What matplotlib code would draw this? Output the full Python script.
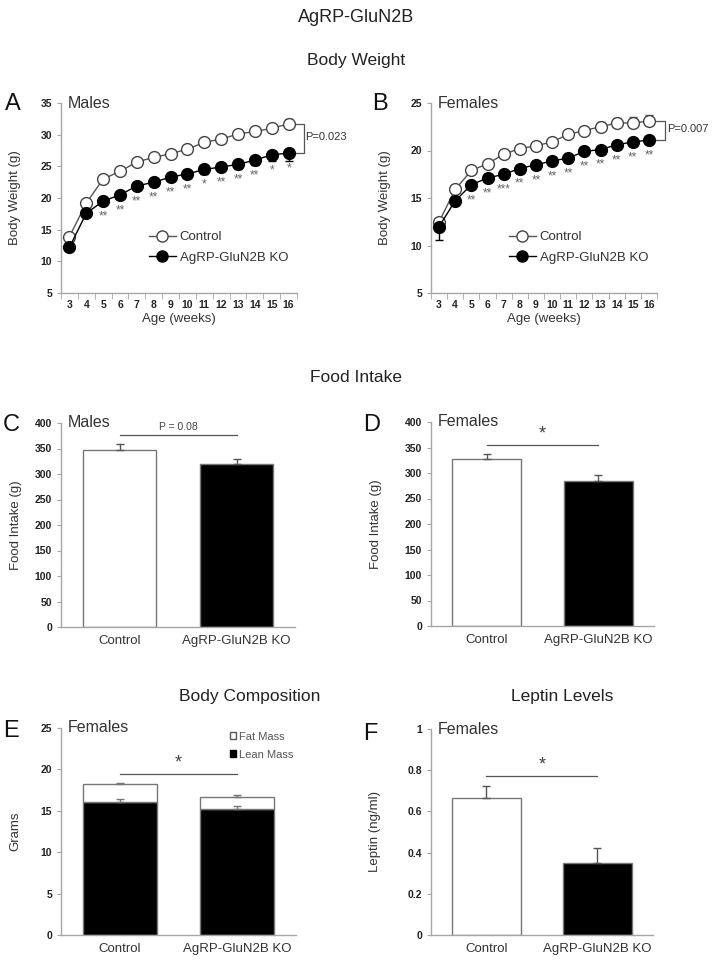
import matplotlib
matplotlib.use("Agg")
import matplotlib.pyplot as plt
from matplotlib.patches import Patch
from matplotlib.lines import Line2D
import numpy as np

plt.rcParams['font.family'] = ['Liberation Sans', 'DejaVu Sans']

# ---- data ----
weeks = list(range(3, 17))

male_ctrl = [13.9, 19.2, 23.0, 24.2, 25.7, 26.4, 27.0, 27.7, 28.8, 29.3, 30.1, 30.5, 31.0, 31.7]
male_ctrl_err = [0.5, 0.4, 0.4, 0.4, 0.4, 0.4, 0.5, 0.5, 0.6, 0.5, 0.6, 0.6, 0.6, 0.7]
male_ko = [12.2, 17.6, 19.5, 20.5, 21.9, 22.5, 23.3, 23.8, 24.5, 24.9, 25.3, 26.0, 26.8, 27.1]
male_ko_err = [0.4, 0.5, 0.5, 0.5, 0.5, 0.5, 0.6, 0.6, 0.7, 0.7, 0.7, 0.8, 1.0, 1.2]
male_stars = ["", "", "**", "**", "**", "**", "**", "**", "*", "**", "**", "**", "*", "*"]

fem_ctrl = [12.5, 15.9, 17.9, 18.6, 19.6, 20.2, 20.5, 20.9, 21.7, 22.1, 22.5, 22.9, 22.9, 23.1]
fem_ctrl_err = [0.3, 0.3, 0.3, 0.3, 0.3, 0.3, 0.4, 0.4, 0.5, 0.4, 0.5, 0.5, 0.6, 0.6]
fem_ko = [12.0, 14.7, 16.4, 17.1, 17.5, 18.1, 18.5, 18.9, 19.2, 19.9, 20.1, 20.6, 20.9, 21.1]
fem_ko_err = [1.4, 0.4, 0.3, 0.3, 0.3, 0.3, 0.3, 0.3, 0.3, 0.3, 0.3, 0.3, 0.3, 0.3]
fem_stars = ["", "", "**", "**", "***", "**", "**", "**", "**", "**", "**", "**", "**", "**"]

groups = ["Control", "AgRP-GluN2B KO"]
food_male = [348, 320]
food_male_err = [10, 10]
food_fem = [328, 285]
food_fem_err = [10, 12]

lean_mass = [16.1, 15.2]
lean_err = [0.3, 0.4]
total_mass = [18.2, 16.7]
total_err = [0.2, 0.15]

leptin = [0.665, 0.35]
leptin_err = [0.06, 0.07]

W, H = 713, 960
fig = plt.figure(figsize=(W / 100, H / 100), dpi=100)


def box(x0, y0, x1, y1):
    return [x0 / W, 1 - y1 / H, (x1 - x0) / W, (y1 - y0) / H]


AX_COL = "#a6a6a6"
TXT = "#333333"


def style(ax):
    for s in ["top", "right"]:
        ax.spines[s].set_visible(False)
    for s in ["left", "bottom"]:
        ax.spines[s].set_color(AX_COL)
        ax.spines[s].set_linewidth(1)
    ax.tick_params(axis="y", colors=AX_COL, length=3, labelsize=7.5, labelcolor="#222222")


def bold_ticks(ax):
    for t in ax.get_yticklabels() + ax.get_xticklabels():
        if t.get_fontsize() < 9:
            t.set_fontweight("bold")


fig.text(0.5, 1 - 17 / H, "AgRP-GluN2B", ha="center", va="center", fontsize=13, color="#222")
fig.text(0.5, 1 - 60 / H, "Body Weight", ha="center", va="center", fontsize=12.5, color="#222")
fig.text(0.5, 1 - 377 / H, "Food Intake", ha="center", va="center", fontsize=12.5, color="#222")
fig.text(250 / W, 1 - 697 / H, "Body Composition", ha="center", va="center", fontsize=12.5, color="#222")
fig.text(562 / W, 1 - 697 / H, "Leptin Levels", ha="center", va="center", fontsize=12.5, color="#222")


def weight_panel(rect, ctrl, cerr, ko, kerr, stars, ylim, yticks, sub, letter, letter_x, ptxt, bx):
    ax = fig.add_axes(box(*rect))
    style(ax)
    ax.errorbar(weeks, ctrl, yerr=[np.zeros(len(cerr)), cerr], fmt="o-", color="#555555",
                mfc="white", mec="#444444", ms=8.5, lw=1, capsize=3, elinewidth=1, zorder=3)
    ax.errorbar(weeks, ko, yerr=[kerr, np.zeros(len(kerr))], fmt="o-", color="black",
                mfc="black", mec="black", ms=8.5, lw=1, capsize=3, elinewidth=1, zorder=4)
    for w, v, s in zip(weeks, ko, stars):
        if s:
            ax.annotate(s, (w, v), xytext=(0, -11), textcoords="offset points",
                        ha="center", va="center", fontsize=8.5, color="#666666")
    ax.set_xlim(2.58, 16.5)
    ax.set_ylim(*ylim)
    ax.set_yticks(yticks)
    ax.set_xticks(weeks)
    ax.set_xticks(np.arange(2.5, 17, 1), minor=True)
    ax.tick_params(axis="x", which="major", length=0, labelsize=7.5, labelcolor="#222222", pad=5)
    ax.tick_params(axis="x", which="minor", length=4, colors=AX_COL)
    bold_ticks(ax)
    ax.set_xlabel("Age (weeks)", fontsize=9.5, color=TXT, labelpad=2)
    ax.set_ylabel("Body Weight (g)", fontsize=9.5, color=TXT, labelpad=14)
    ax.text(0.03, 1.0, sub, transform=ax.transAxes, fontsize=11.5, color=TXT, va="center")
    fig.text(letter_x / W, 1 - 104 / H, letter, fontsize=17, color="#111", va="center")
    # P bracket
    x0 = 16.3
    ax.plot([x0, bx, bx, x0], [ctrl[-1], ctrl[-1], ko[-1], ko[-1]], color="#555555",
            lw=0.9, clip_on=False)
    ax.text(bx + 0.1, (ctrl[-1] + ko[-1]) / 2 + (ylim[1] - ylim[0]) * 0.01, ptxt,
            fontsize=8, color=TXT, va="center", ha="left")
    handles = [Line2D([], [], color="#555555", marker="o", mfc="white", mec="#444444",
                      ms=8, lw=1, label="Control"),
               Line2D([], [], color="black", marker="o", mfc="black", mec="black",
                      ms=8, lw=1, label="AgRP-GluN2B KO")]
    leg = ax.legend(handles=handles, loc="lower right", bbox_to_anchor=(0.99, 0.12),
                    frameon=False, fontsize=9.5, handlelength=2.0, handletextpad=0.3,
                    labelspacing=0.6, borderpad=0)
    for t in leg.get_texts():
        t.set_color(TXT)
    return ax


weight_panel((61, 103, 297, 293), male_ctrl, male_ctrl_err, male_ko, male_ko_err, male_stars,
             (5, 35), range(5, 40, 5), "Males", "A", 5, "P=0.023", 16.9)
weight_panel((431, 103, 657, 293), fem_ctrl, fem_ctrl_err, fem_ko, fem_ko_err, fem_stars,
             (5, 25), range(5, 30, 5), "Females", "B", 372, "P=0.007", 17.0)


def bar_panel(rect, vals, errs, ylim, yticks, ylabel, sub, letter, letter_x, letter_y,
              sig, sig_y, sig_fs, yticklabels=None, pad=10):
    ax = fig.add_axes(box(*rect))
    style(ax)
    x = np.arange(len(groups))
    ax.bar(x, vals, width=0.62, color=["white", "black"], edgecolor="#777777", lw=1, zorder=2)
    ax.errorbar(x, vals, yerr=[np.zeros(len(errs)), errs], fmt="none", ecolor="#555555",
                elinewidth=1, capsize=3, zorder=3)
    ax.set_xlim(-0.5, 1.5)
    ax.set_ylim(*ylim)
    ax.set_yticks(yticks)
    if yticklabels is not None:
        ax.set_yticklabels(yticklabels)
    ax.set_xticks(x)
    ax.set_xticklabels(groups)
    ax.tick_params(axis="x", length=0, labelsize=9.5, labelcolor=TXT, pad=6)
    bold_ticks(ax)
    ax.set_ylabel(ylabel, fontsize=9.5, color=TXT, labelpad=pad)
    ax.text(0.03, 1.0, sub, transform=ax.transAxes, fontsize=11.5, color=TXT, va="center")
    fig.text(letter_x / W, 1 - letter_y / H, letter, fontsize=17, color="#111", va="center")
    ax.plot([0, 1], [sig_y, sig_y], color="#555555", lw=0.9)
    ax.text(0.5, sig_y + (ylim[1] - ylim[0]) * 0.012, sig, ha="center", va="bottom",
            fontsize=sig_fs, color="#444444")
    return ax


bar_panel((61, 423, 295, 627), food_male, food_male_err, (0, 400), range(0, 450, 50),
          "Food Intake (g)", "Males", "C", 3, 425, "P = 0.08", 377, 7.5, pad=9)
bar_panel((431, 422, 654, 626), food_fem, food_fem_err, (0, 400), range(0, 450, 50),
          "Food Intake (g)", "Females", "D", 363, 425, "*", 355, 13, pad=16)

# body composition (stacked)
axE = fig.add_axes(box(61, 728, 296, 935))
style(axE)
xe = np.arange(len(groups))
fat = [t - l for t, l in zip(total_mass, lean_mass)]
axE.bar(xe, lean_mass, width=0.63, color="black", edgecolor="#777777", lw=1, zorder=2)
axE.bar(xe, fat, bottom=lean_mass, width=0.63, color="white", edgecolor="#777777", lw=1, zorder=2)
axE.errorbar(xe, lean_mass, yerr=[np.zeros(2), lean_err], fmt="none", ecolor="#777777",
             elinewidth=1, capsize=3, zorder=3)
axE.errorbar(xe, total_mass, yerr=[np.zeros(2), total_err], fmt="none", ecolor="#777777",
             elinewidth=1, capsize=3, zorder=3)
axE.set_xlim(-0.5, 1.5)
axE.set_ylim(0, 25)
axE.set_yticks(range(0, 30, 5))
axE.set_xticks(xe)
axE.set_xticklabels(groups)
axE.tick_params(axis="x", length=0, labelsize=9.5, labelcolor=TXT, pad=6)
bold_ticks(axE)
axE.set_ylabel("Grams", fontsize=9.5, color=TXT, labelpad=14)
axE.text(0.03, 1.0, "Females", transform=axE.transAxes, fontsize=11.5, color=TXT, va="center")
fig.text(3 / W, 1 - 731 / H, "E", fontsize=17, color="#111", va="center")
axE.plot([0, 1], [19.4, 19.4], color="#555555", lw=0.9)
axE.text(0.5, 19.7, "*", ha="center", va="bottom", fontsize=13, color="#444444")
legE = axE.legend(handles=[Patch(facecolor="white", edgecolor="#555555", label="Fat Mass"),
                           Patch(facecolor="black", edgecolor="black", label="Lean Mass")],
                  loc="upper right", bbox_to_anchor=(1.03, 1.03), frameon=False, fontsize=8,
                  handlelength=0.6, handleheight=0.6, handletextpad=0.2, labelspacing=0.7)
for t in legE.get_texts():
    t.set_color("#555555")

bar_panel((431, 729, 653, 935), leptin, leptin_err, (0, 1), np.arange(0, 1.2, 0.2),
          "Leptin (ng/ml)", "Females", "F", 363, 734, "*", 0.77, 13,
          yticklabels=["0", "0.2", "0.4", "0.6", "0.8", "1"], pad=19)

fig.savefig("out.png", dpi=100)
